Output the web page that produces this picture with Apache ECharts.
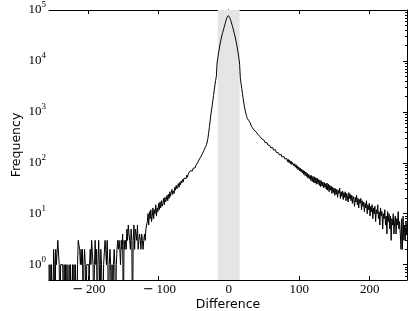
<!DOCTYPE html>
<html><head><meta charset="utf-8">
<script src="https://cdn.jsdelivr.net/npm/echarts@6/dist/echarts.min.js"></script>
<style>html,body{margin:0;padding:0;background:#fff}#c{width:415px;height:311px}</style>
</head><body><div id="c"></div>
<script>
// Histogram of differences, one bin per integer from binMin upward
const binMin = -255;
// d = -255 .. -116
const farLeftTail = [
 1,0,1,0,1,1,0,2,1,0,
 2,1,1,3,3,1,0,1,1,1,
 1,0,1,0,1,0,1,1,0,1,
 0,1,1,0,1,0,1,0,1,1,
 0,1,3,3,2,1,2,1,2,0,
 1,2,1,0,1,1,1,0,1,2,
 1,3,3,1,0,1,3,1,2,0,
 1,3,1,0,2,1,1,0,1,1,
 3,2,1,3,1,0,1,2,1,0,
 1,0,1,2,1,0,1,2,3,2,
 3,2,1,3,2,4,0,3,2,3,
 2,5,3,6,4,3,2,5,3,0,
 3,6,2,5,4,3,6,2,3,4,
 3,2,4,3,2,3,4,3,5,6];
// d = -115 .. -43
const leftTail = [
 7,10,6,11,8,12,7,9,13,8,
 12,10,15,9,13,11,16,12,17,13,
 18,14,16,20,15,21,17,19,23,18,
 24,20,27,22,26,30,24,28,25,33,
 29,36,31,34,39,33,41,37,44,40,
 47,42,50,46,53,49,57,52,60,58,
 63,70,66,74,69,78,75,84,80,90,
 93,98,104];
// d = -42 .. -18
const leftShoulder = [110,119,121,131,136,150,156,172,180,197,210,228,257,302,380,490,631,832,1047,1318,1660,2089,2692,3388,4169];
// d = -17 .. 16
const core = [5012,9120,11220,14130,16980,20420,23990,28180,32360,36310,40740,45710,51290,57540,64570,70790,75860,
 77620,
 75860,70790,64570,58880,52480,46770,41690,36310,32360,28180,23990,20420,16980,13800,11220,8510];
// d = 17 .. 37
const rightShoulder = [4570,3630,2880,2290,1820,1480,1230,1047,912,813,741,692,672,621,610,552,535,491,488,447,440];
// d = 38 .. 255
const rightTail = [
 418,410,392,381,362,356,
 338,326,312,301,290,283,
 266,276,250,260,236,246,224,232,212,
 218,198,209,188,199,178,190,168,180,160,
 166,150,158,144,152,136,145,130,139,124,133,119,
 126,112,121,105,117,101,112,96,108,92,102,
 98,87,96,82,92,78,87,73,83,70,79,67,
 75,63,72,59,69,56,66,54,62,50,59,49,
 57,45,56,43,54,41,53,40,51,38,50,39,
 47,36,46,34,44,35,42,32,41,33,39,30,
 40,29,38,27,36,29,35,25,33,26,32,
 23,31,24,30,21,29,25,32,20,27,22,28,
 19,26,21,27,18,25,23,17,26,20,24,18,
 23,16,22,19,14,21,17,23,15,20,13,19,
 16,20,12,18,14,17,11,16,13,18,10,15,
 12,16,9,14,11,15,8,13,10,14,7,12,
 10,15,8,11,6,13,9,11,5,10,8,12,
 6,9,4,11,7,10,5,9,3,8,6,
 10,4,7,9,4,8,6,11,5,7,4,2,8,2,9,3,6,3,7,4,6,5];

const bandRange = [-15.5, 15.5];
const xTicks = [-200, -100, 0, 100, 200];
const yTicks = [1, 10, 100, 1000, 10000, 100000];
const xLimits = [-255, 253];
const yLimits = [0.5, 100000];

const counts = [].concat(farLeftTail, leftTail, leftShoulder, core, rightShoulder, rightTail);
const zeroFloor = 0.05; // empty bins drop below the axis (clipped)
const seriesData = counts.map((c, i) => [binMin + i, c > 0 ? c : zeroFloor]);

const yMinor = [];
for (let e = -1; e <= 4; e++) {
  for (let k = 2; k <= 9; k++) {
    const v = k * Math.pow(10, e);
    if (v > yLimits[0]) yMinor.push(+v.toPrecision(3));
  }
}

const black = '#000';
const serif = 'Liberation Serif';
const sans = 'DejaVu Sans';

function xFmt(v) {
  if (v < 0) return '\u2009{m|\u2212}\u2009' + (-v);
  return String(v);
}
function yFmt(v) {
  const e = Math.round(Math.log10(v));
  return '{b|10}{s|' + e + '}';
}

const axisLine = { show: true, lineStyle: { color: black, width: 1 } };

const option = {
  animation: false,
  backgroundColor: '#fff',
  grid: { left: 49, right: 8, top: 10, bottom: 31, containLabel: false, outerBoundsMode: 'none' },
  xAxis: [
    {
      type: 'value', position: 'bottom', min: xLimits[0], max: xLimits[1],
      axisLine: axisLine,
      axisTick: { show: true, inside: true, length: 4, customValues: xTicks, lineStyle: { color: black } },
      axisLabel: { show: true, customValues: xTicks, formatter: xFmt, color: black, fontFamily: serif, fontSize: 13, margin: 3,
        rich: { m: { fontFamily: sans, fontSize: 13, color: black } } },
      splitLine: { show: false },
      name: 'Difference', nameLocation: 'middle', nameGap: 18, nameMoveOverlap: false,
      nameTextStyle: { fontFamily: sans, fontSize: 12.5, color: black, verticalAlign: 'top' }
    },
    {
      type: 'value', position: 'top', min: xLimits[0], max: xLimits[1],
      axisLine: axisLine,
      axisTick: { show: true, inside: true, length: 4, customValues: xTicks, lineStyle: { color: black } },
      axisLabel: { show: false }, splitLine: { show: false }
    }
  ],
  yAxis: [
    {
      type: 'log', logBase: 10, position: 'left', min: yLimits[0], max: yLimits[1],
      axisLine: axisLine,
      axisTick: { show: true, inside: true, length: 4, customValues: yTicks, lineStyle: { color: black } },
      axisLabel: { show: true, customValues: yTicks, formatter: yFmt, margin: 3,
        rich: {
          b: { fontFamily: serif, fontSize: 13, color: black, lineHeight: 13 },
          s: { fontFamily: serif, fontSize: 9, color: black, lineHeight: 9, padding: [0, 0, 10, 0] }
        } },
      splitLine: { show: false },
      name: 'Frequency', nameLocation: 'middle', nameGap: 26, nameRotate: 90, nameMoveOverlap: false,
      nameTextStyle: { fontFamily: sans, fontSize: 12.5, color: black }
    },
    {
      type: 'log', logBase: 10, position: 'left', min: yLimits[0], max: yLimits[1],
      axisLine: { show: false },
      axisTick: { show: true, inside: true, length: 2, customValues: yMinor, lineStyle: { color: black } },
      axisLabel: { show: false }, splitLine: { show: false }
    },
    {
      type: 'log', logBase: 10, position: 'right', min: yLimits[0], max: yLimits[1],
      axisLine: axisLine,
      axisTick: { show: true, inside: true, length: 4, customValues: yTicks, lineStyle: { color: black } },
      axisLabel: { show: false }, splitLine: { show: false }
    },
    {
      type: 'log', logBase: 10, position: 'right', min: yLimits[0], max: yLimits[1],
      axisLine: { show: false },
      axisTick: { show: true, inside: true, length: 2, customValues: yMinor, lineStyle: { color: black } },
      axisLabel: { show: false }, splitLine: { show: false }
    }
  ],
  series: [{
    type: 'line', xAxisIndex: 0, yAxisIndex: 0,
    data: seriesData, step: 'middle', showSymbol: false, symbol: 'none',
    clip: true,
    lineStyle: { color: black, width: 1 },
    markArea: {
      silent: true,
      itemStyle: { color: '#e5e5e5' },
      data: [[{ xAxis: bandRange[0] }, { xAxis: bandRange[1] }]]
    }
  }]
};

const chart = echarts.init(document.getElementById('c'), null, { renderer: 'canvas' });
chart.setOption(option);
</script>
</body></html>
